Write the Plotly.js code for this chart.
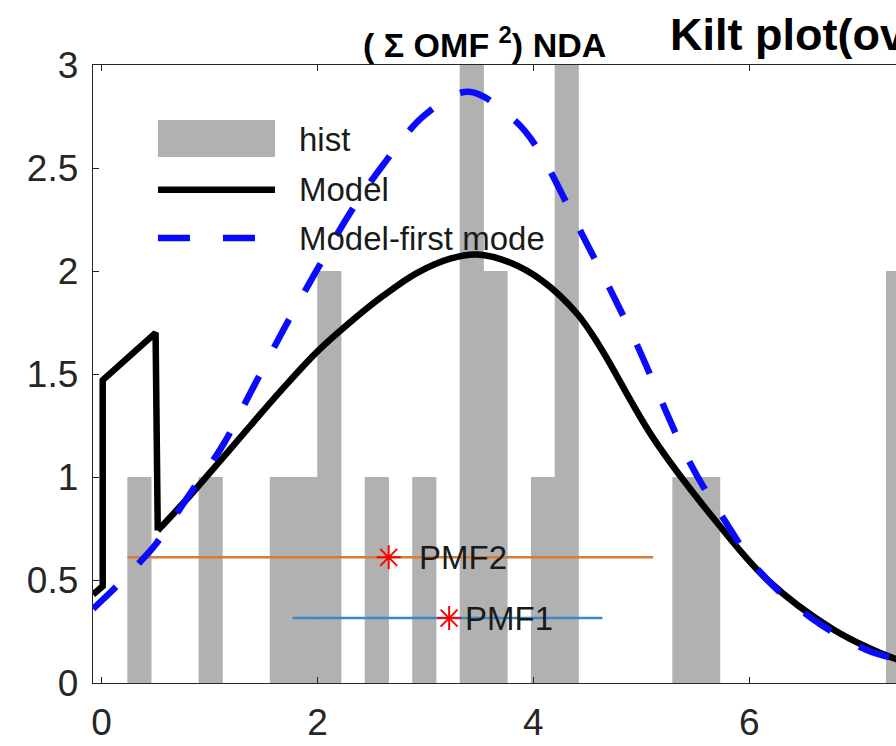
<!DOCTYPE html>
<html>
<head>
<meta charset="utf-8">
<script src="https://cdn.plot.ly/plotly-3.0.1.min.js"></script>
<style>
html, body { margin: 0; padding: 0; overflow: hidden; background: #ffffff; width: 896px; height: 746px; }
#chart { width: 1000px; height: 746px; }
</style>
</head>
<body>
<div id="chart"></div>
<script>
// Histogram bins (centers) and counts
const histX = [0.35, 1.01, 1.67, 1.89, 2.11, 2.55, 2.99, 3.43, 3.65, 4.09, 4.31, 5.40, 5.62, 7.38];
const histY = [1, 1, 1, 1, 2, 1, 1, 3, 2, 1, 3, 1, 1, 2];
const binWidth = 0.224;

// Model (black): step part then bell part
const modelStepX = [-0.08, 0.01, 0.01, 0.50, 0.52];
const modelStepY = [0.43, 0.47, 1.47, 1.70, 0.74];
const modelX = [0.52, 0.82, 1.10, 1.38, 1.68, 2.00, 2.30, 2.61, 2.92, 3.23, 3.48, 3.79, 4.09, 4.41, 4.62, 5.11, 5.70, 6.17, 6.78, 7.34, 7.50];
const modelY = [0.74, 0.91, 1.08, 1.25, 1.43, 1.61, 1.75, 1.88, 1.99, 2.06, 2.08, 2.04, 1.95, 1.79, 1.63, 1.19, 0.78, 0.50, 0.26, 0.12, 0.10];

// Model-first mode (blue dashed)
const firstX = [-0.08, 0.12, 0.36, 0.51, 0.82, 1.13, 1.38, 1.68, 2.00, 2.30, 2.60, 3.00, 3.40, 3.83, 4.02, 4.46, 4.90, 5.45, 5.76, 6.10, 6.59, 7.09, 7.34, 7.50];
const firstY = [0.36, 0.46, 0.59, 0.68, 0.92, 1.16, 1.41, 1.71, 2.01, 2.28, 2.51, 2.76, 2.87, 2.73, 2.61, 2.17, 1.71, 1.07, 0.80, 0.54, 0.31, 0.16, 0.12, 0.10];

// PMF ranges and markers
const pmfNames = ["PMF1", "PMF2"];
const pmfStart = [1.77, 0.24];
const pmfEnd = [4.64, 5.11];
const pmfLevel = [0.315, 0.61];
const pmfMark = [3.22, 2.66];
const pmfLabelX = [3.35, 2.92];
const pmfColors = ["#3f87c6", "#d97a36"];

// Axis ticks
const xTicks = [0, 2, 4, 6];
const yTicks = [0, 0.5, 1, 1.5, 2, 2.5, 3];

const gray = "#b1b1b1";
const axisColor = "#262626";
const font = "Liberation Sans, Arial, sans-serif";

const traces = [];
traces.push({
  type: "bar", x: histX, y: histY, width: binWidth,
  marker: { color: gray, line: { width: 0 } }, showlegend: false, hoverinfo: "skip"
});
for (let i = 0; i < pmfNames.length; i++) {
  traces.push({
    type: "scatter", mode: "lines",
    x: [pmfStart[i], pmfEnd[i]], y: [pmfLevel[i], pmfLevel[i]],
    line: { color: pmfColors[i], width: 2.5 }, showlegend: false, hoverinfo: "skip"
  });
}
traces.push({
  type: "scatter", mode: "lines", x: modelStepX, y: modelStepY,
  line: { color: "#000000", width: 6.5, shape: "linear" }, showlegend: false, hoverinfo: "skip"
});
traces.push({
  type: "scatter", mode: "lines", x: modelX, y: modelY,
  line: { color: "#000000", width: 6.5, shape: "spline", smoothing: 1 }, showlegend: false, hoverinfo: "skip"
});
traces.push({
  type: "scatter", mode: "lines", x: firstX, y: firstY,
  line: { color: "#0a0aff", width: 6.5, dash: "32px,32px", shape: "spline", smoothing: 1 }, showlegend: false, hoverinfo: "skip"
});
traces.push({
  type: "scatter", mode: "markers", x: pmfMark, y: pmfLevel,
  marker: { symbol: "asterisk-open", size: 20, color: "#ff0000", line: { color: "#ff0000", width: 2 } },
  showlegend: false, hoverinfo: "skip"
});

const annotations = [];
for (let i = 0; i < pmfNames.length; i++) {
  annotations.push({
    x: pmfLabelX[i], y: pmfLevel[i], xref: "x", yref: "y", text: pmfNames[i],
    showarrow: false, xanchor: "left", yanchor: "middle",
    font: { family: font, size: 33, color: "#1a1a1a" }
  });
}
// Titles
annotations.push({
  x: 0.4495, y: 1.036, xref: "paper", yref: "paper", text: "<b>( Σ OMF <sup>2</sup>) NDA</b>",
  showarrow: false, xanchor: "center", yanchor: "middle",
  font: { family: font, size: 34, color: "#000000" }
});
annotations.push({
  x: 0.659, y: 1.05, xref: "paper", yref: "paper", text: "<b>Kilt plot(ov</b>",
  showarrow: false, xanchor: "left", yanchor: "middle",
  font: { family: font, size: 45, color: "#000000" }
});
// Legend labels
const legendLabels = ["hist", "Model", "Model-first mode"];
const legendY = [0.879, 0.798, 0.720];
for (let i = 0; i < legendLabels.length; i++) {
  annotations.push({
    x: 0.234, y: legendY[i], xref: "paper", yref: "paper", text: legendLabels[i],
    showarrow: false, xanchor: "left", yanchor: "middle",
    font: { family: font, size: 33, color: "#1a1a1a" }
  });
}

const shapes = [
  { type: "rect", xref: "paper", yref: "paper", x0: 0.0745, x1: 0.2087, y0: 0.851, y1: 0.911,
    fillcolor: gray, line: { width: 0 } },
  { type: "line", xref: "paper", yref: "paper", x0: 0.0745, x1: 0.2087, y0: legendY[1], y1: legendY[1],
    line: { color: "#000000", width: 6.5 } },
  { type: "line", xref: "paper", yref: "paper", x0: 0.0745, x1: 0.2087, y0: legendY[2], y1: legendY[2],
    line: { color: "#0a0aff", width: 6.5, dash: "32px,33px" } }
];

const layout = {
  width: 1000, height: 746,
  margin: { l: 93, r: 35, t: 65, b: 63 },
  paper_bgcolor: "#ffffff", plot_bgcolor: "#ffffff",
  showlegend: false,
  font: { family: font, color: axisColor },
  xaxis: {
    range: [-0.08, 8.0], tickvals: xTicks, ticks: "inside", ticklen: 6, tickcolor: axisColor,
    showline: true, linecolor: axisColor, linewidth: 1.3, mirror: "ticks",
    showgrid: false, zeroline: false, ticklabelstandoff: 6,
    tickfont: { family: font, size: 37, color: axisColor }
  },
  yaxis: {
    range: [0, 3], tickvals: yTicks, ticks: "inside", ticklen: 6, tickcolor: axisColor,
    showline: true, linecolor: axisColor, linewidth: 1.3, mirror: "ticks",
    showgrid: false, zeroline: false, ticklabelstandoff: 6,
    tickfont: { family: font, size: 37, color: axisColor }
  },
  annotations: annotations,
  shapes: shapes
};

Plotly.newPlot("chart", traces, layout, { staticPlot: true, displayModeBar: false });
</script>
</body>
</html>
